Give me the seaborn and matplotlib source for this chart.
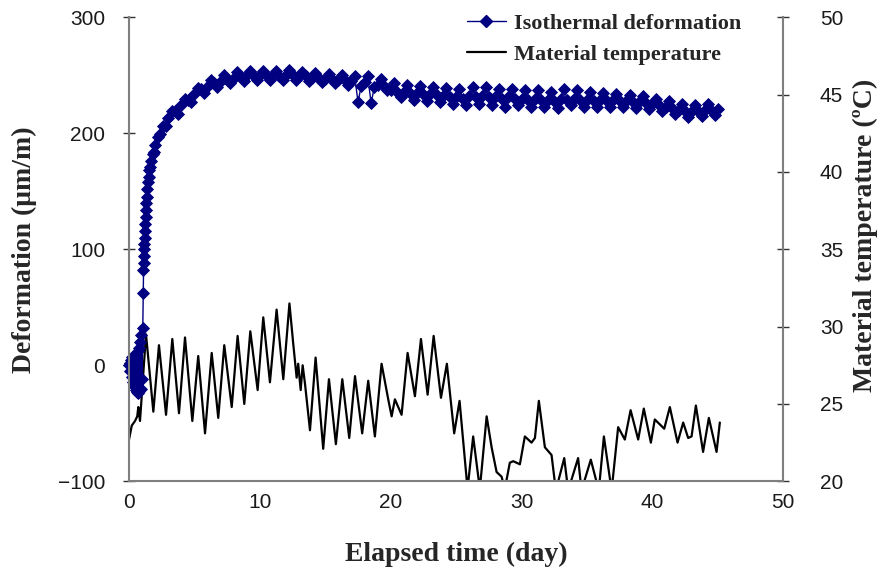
import numpy as np
import pandas as pd
import matplotlib
matplotlib.use("Agg")
import matplotlib.pyplot as plt
from matplotlib.lines import Line2D
import seaborn as sns

# ---- Isothermal deformation (um/m) ----
# dense readings during the first days (initial scatter and steep rise)
early_days = [0.00, 0.05, 0.10, 0.15, 0.20, 0.25, 0.30, 0.35, 0.40, 0.45, 0.50,
              0.55, 0.60, 0.65, 0.70, 0.75, 0.80, 0.85, 0.90, 0.95, 1.00,
              1.05, 1.08, 1.10, 1.12, 1.14, 1.16, 1.18, 1.20, 1.22, 1.25, 1.27,
              1.30, 1.32, 1.35, 1.40, 1.45, 1.50, 1.55, 1.60, 1.70, 1.80, 1.90,
              2.00, 2.20, 2.40, 2.60, 2.80]
early_deformation = [0, 2, -5, 5, -10, 7, -14, 8, -18, 8, -21,
                     10, -23, 12, -24, 15, -22, 20, -20, 26, -12,
                     32, 62, 82, 88, 94, 100, 105, 110, 116, 122, 128,
                     134, 140, 145, 152, 158, 162, 168, 171, 176, 182, 184,
                     190, 197, 199, 206, 206]

# quarter-day readings from day 3 to day 45
late_days = np.arange(3.0, 45.01, 0.25)
late_deformation = [
    213, 219, 219, 217,   # day 3
    224, 230, 229, 227,
    234, 239, 238, 235,   # day 5
    241, 246, 243, 240,
    245, 250, 247, 243,
    248, 253, 249, 245,
    250, 254, 250, 246,
    250, 254, 250, 246,   # day 10
    250, 254, 249, 246,
    250, 255, 250, 246,
    249, 253, 249, 245,
    248, 252, 248, 244,
    247, 251, 247, 243,   # day 15
    246, 250, 246, 242,
    245, 249, 227, 241,
    244, 249, 226, 240,
    242, 247, 241, 237,
    237, 243, 236, 231,   # day 20
    236, 242, 235, 229,
    235, 241, 234, 228,
    234, 240, 233, 227,
    232, 239, 231, 225,
    231, 238, 230, 224,   # day 25
    232, 240, 231, 225,
    232, 240, 231, 224,
    231, 238, 230, 223,
    231, 238, 230, 224,
    230, 237, 229, 223,   # day 30
    230, 237, 229, 223,
    229, 236, 228, 222,
    230, 238, 229, 224,
    230, 237, 229, 223,
    229, 236, 228, 223,   # day 35
    229, 235, 228, 223,
    229, 234, 228, 223,
    228, 233, 227, 222,
    227, 232, 226, 221,
    225, 230, 224, 219,   # day 40
    223, 228, 222, 217,
    220, 225, 219, 214,
    219, 224, 219, 215,
    220, 225, 220, 216,
    221,                  # day 45
]

# ---- Material temperature (deg C) ----
temp_days = [0.00, 0.21, 0.46, 0.63, 0.71, 0.84, 1.30, 1.86, 2.29, 2.83,
             3.31, 3.82, 4.28, 4.84, 5.29, 5.81, 6.32, 6.82, 7.28, 7.85,
             8.30, 8.81, 9.27, 9.83, 10.26, 10.77, 11.28, 11.79, 12.26, 12.55,
             12.81, 12.93, 13.12, 13.27, 13.45, 13.83, 14.26, 14.84, 15.28, 15.81,
             16.30, 16.83, 17.27, 17.82, 18.28, 18.79, 19.30, 19.81, 20.07, 20.32,
             20.83, 21.29, 21.85, 22.31, 22.82, 23.28, 23.84, 24.29, 24.85, 25.26,
             25.87, 26.30, 26.81, 27.33, 27.71, 28.09, 28.47, 28.72, 29.10, 29.36,
             29.87, 30.25, 30.76, 31.02, 31.32, 31.78, 32.29, 32.62, 33.26, 33.56,
             34.32, 34.58, 35.29, 35.90, 36.29, 36.88, 37.38, 37.89, 38.33, 38.91,
             39.34, 39.88, 40.18, 40.90, 41.33, 41.92, 42.35, 42.73, 42.99, 43.32,
             43.87, 44.31, 44.90, 45.15]
temp_values = [22.7, 23.6, 23.9, 24.2, 24.8, 23.9, 29.5, 24.5, 28.8, 24.3,
               29.2, 24.4, 29.3, 23.9, 28.1, 23.1, 28.3, 24.1, 28.8, 24.8,
               29.4, 25.0, 29.7, 25.9, 30.6, 26.4, 31.1, 26.6, 31.5, 28.9,
               26.7, 27.6, 25.9, 27.5, 26.3, 23.3, 28.0, 22.1, 26.6, 22.4,
               26.6, 22.8, 26.8, 23.1, 26.5, 22.9, 27.6, 25.3, 24.2, 25.3,
               24.3, 28.3, 25.5, 29.2, 25.6, 29.4, 25.4, 27.6, 23.1, 25.2,
               19.5, 22.9, 19.5, 24.2, 22.2, 20.6, 20.3, 19.5, 21.2, 21.3,
               21.1, 22.9, 22.5, 22.8, 25.2, 22.2, 21.7, 19.4, 21.5, 19.4,
               21.5, 19.4, 21.4, 19.4, 22.9, 19.4, 23.5, 22.7, 24.6, 22.7,
               24.7, 22.5, 24.0, 23.4, 24.8, 22.5, 23.8, 22.8, 22.9, 24.9,
               21.9, 24.1, 21.9, 23.8]

x_ticks = [0, 10, 20, 30, 40, 50]
left_ticks = [-100, 0, 100, 200, 300]
right_ticks = [20, 25, 30, 35, 40, 45, 50]

series_labels = ["Isothermal deformation", "Material temperature"]

deformation_df = pd.DataFrame({
    "day": list(early_days) + list(late_days),
    "deformation": list(early_deformation) + list(late_deformation),
})
temperature_df = pd.DataFrame({"day": temp_days, "temperature": temp_values})

NAVY = "#000080"
SPINE = "#7f7f7f"
SERIF = ["Liberation Serif", "DejaVu Serif"]
MS = 6.6

sns.set_theme(style="white")
plt.rcParams["font.family"] = ["Liberation Sans", "DejaVu Sans"]

fig = plt.figure(figsize=(8.8, 5.71), dpi=100)
ax = fig.add_axes([129 / 880, 1 - 481.3 / 571, 654.3 / 880, 464 / 571])
ax2 = ax.twinx()

sns.lineplot(data=temperature_df, x="day", y="temperature", ax=ax2,
             color="black", linewidth=1.6, estimator=None, sort=False,
             legend=False)
sns.lineplot(data=deformation_df, x="day", y="deformation", ax=ax,
             color=NAVY, linewidth=1.0, marker="D", markersize=MS,
             markeredgewidth=0.6, markeredgecolor=NAVY, markerfacecolor=NAVY,
             estimator=None, sort=False, legend=False, clip_on=False)

# deformation drawn above the temperature trace
ax.set_zorder(ax2.get_zorder() + 1)
ax.patch.set_visible(False)

ax.set_xlim(0, 50)
ax.set_ylim(-100, 300)
ax2.set_ylim(20, 50)
ax.set_xticks(x_ticks)
ax.set_yticks(left_ticks)
ax2.set_yticks(right_ticks)

for side in ["top", "right"]:
    ax.spines[side].set_visible(False)
for side in ["top", "left", "bottom"]:
    ax2.spines[side].set_visible(False)
for sp in [ax.spines["left"], ax.spines["bottom"], ax2.spines["right"]]:
    sp.set_color(SPINE)
    sp.set_linewidth(1.5)

tick_kw = dict(direction="inout", length=8.5, width=1.0, color="#333333",
               labelsize=15, labelcolor="#1a1a1a")
ax.tick_params(axis="x", pad=4, **tick_kw)
ax.tick_params(axis="y", pad=13, **tick_kw)
ax2.tick_params(axis="y", pad=22, **tick_kw)

ax.set_xlabel("Elapsed time (day)", fontsize=20, fontweight="bold",
              family=SERIF)
ax.set_ylabel("Deformation (\u03bcm/m)", fontsize=20, fontweight="bold",
              family=SERIF)
ax2.set_ylabel("Material temperature (\u00baC)", fontsize=20,
               fontweight="bold", family=SERIF)
ax.xaxis.set_label_coords(0.5, -0.13)
ax.yaxis.set_label_coords(-0.1406, 0.5)
ax2.yaxis.set_label_coords(1.1065, 0.53)

handles = [
    Line2D([], [], color=NAVY, linewidth=1.0, marker="D", markersize=MS,
           markeredgecolor=NAVY, markerfacecolor=NAVY),
    Line2D([], [], color="black", linewidth=1.6),
]
fig.legend(handles, series_labels, loc="upper left",
           bbox_to_anchor=(467 / 880, 1 - 13 / 571), frameon=False,
           prop=dict(family=SERIF, weight="bold", size=16),
           handlelength=1.75, handletextpad=0.35, labelspacing=0.5,
           borderpad=0, borderaxespad=0)

fig.savefig("out.png", dpi=100)
